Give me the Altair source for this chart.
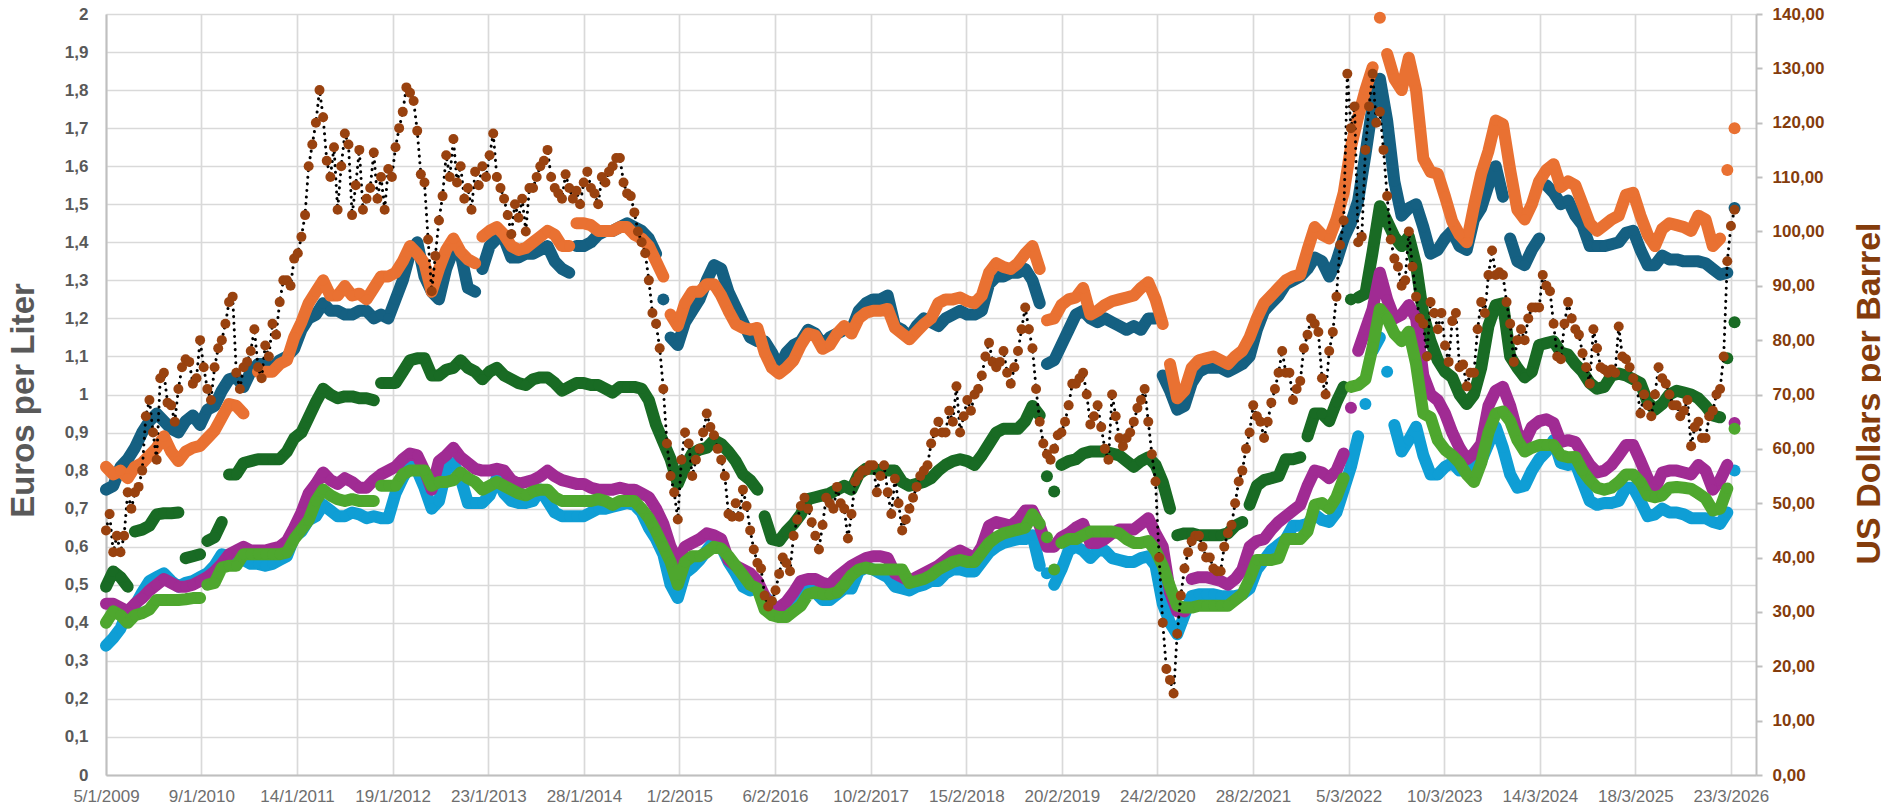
import datetime as dt
import altair as alt
import pandas as pd

N = None
DARK_BLUE = [
.75,.76,.81,.83,.86,.90,.93,.95,.93,.91,
.90,.93,.945,.92,.96,.97,1.01,1.04,1.045,1.02,
1.06,1.08,1.08,1.07,1.09,1.1,1.12,1.17,1.2,1.21,
1.24,1.22,1.22,1.21,1.21,1.22,1.22,1.2,1.21,1.2,
1.25,1.3,1.37,1.40,1.31,1.27,1.25,1.33,1.38,1.37,
1.28,1.27,1.33,1.39,1.41,1.41,1.36,1.36,1.37,1.37,
1.38,1.39,1.35,1.33,1.32,1.39,1.39,1.40,1.42,1.43,
1.43,1.44,1.45,1.44,1.43,1.41,1.37,1.25,1.15,1.13,
1.19,1.22,1.25,1.3,1.34,1.33,1.27,1.23,1.19,1.15,
1.14,1.14,1.11,1.07,1.11,1.13,1.14,1.17,1.16,1.13,
1.15,1.16,1.17,1.17,1.22,1.24,1.25,1.25,1.26,1.18,
1.17,1.15,1.18,1.2,1.19,1.18,1.2,1.21,1.22,1.21,
1.21,1.22,1.29,1.31,1.31,1.32,1.32,1.33,1.30,1.24,
1.08,1.09,1.13,1.17,1.21,1.22,1.2,1.19,1.2,1.19,
1.18,1.17,1.18,1.17,1.2,1.2,1.05,1.01,.96,.97,
1.03,1.06,1.07,1.07,1.07,1.06,1.07,1.08,1.1,1.17,
1.22,1.24,1.26,1.29,1.3,1.31,1.33,1.36,1.35,1.31,
1.35,1.41,1.45,1.51,1.63,1.76,1.83,1.72,1.56,1.47,
1.49,1.5,1.44,1.37,1.38,1.41,1.43,1.39,1.38,1.46,
1.49,1.55,1.6,1.52,1.41,1.35,1.34,1.38,1.41,1.55,
1.53,1.5,1.51,1.47,1.445,1.39,1.39,1.39,1.395,1.40,
1.425,1.43,1.38,1.34,1.34,1.365,1.355,1.355,1.35,1.35,
1.35,1.345,1.33,1.315,1.32,1.49]
ORANGE = [
.81,.79,.80,.78,.81,.82,.84,.86,.89,.85,
.825,.85,.86,.865,.885,.905,.94,.975,.97,.95,
N,1.06,1.06,1.06,1.08,1.09,1.15,1.19,1.24,1.27,
1.30,1.26,1.26,1.285,1.26,1.265,1.25,1.28,1.31,1.31,
1.32,1.35,1.39,1.37,1.345,1.27,1.33,1.38,1.41,1.375,
1.355,1.345,1.415,1.43,1.44,1.42,1.39,1.38,1.385,1.40,
1.415,1.43,1.42,1.39,1.39,1.45,1.45,1.445,1.43,1.43,
1.43,1.44,1.44,1.42,1.41,1.39,1.35,1.31,1.21,1.18,
1.24,1.27,1.27,1.29,1.29,1.26,1.22,1.185,1.175,1.17,
1.175,1.11,1.07,1.055,1.07,1.09,1.13,1.16,1.155,1.12,
1.13,1.16,1.18,1.16,1.20,1.215,1.22,1.22,1.225,1.175,
1.16,1.145,1.165,1.185,1.20,1.24,1.25,1.25,1.255,1.245,
1.24,1.26,1.32,1.345,1.335,1.33,1.345,1.37,1.39,1.33,
1.195,1.2,1.235,1.25,1.255,1.28,1.21,1.22,1.235,1.245,
1.25,1.255,1.26,1.28,1.295,1.25,1.185,1.08,.99,1.01,
1.07,1.09,1.095,1.1,1.09,1.08,1.1,1.115,1.15,1.2,
1.24,1.26,1.28,1.30,1.31,1.315,1.38,1.44,1.42,1.41,
1.46,1.53,1.65,1.73,1.80,1.86,1.99,1.895,1.83,1.80,
1.885,1.8,1.62,1.585,1.58,1.52,1.455,1.42,1.40,1.495,
1.58,1.64,1.72,1.71,1.59,1.485,1.46,1.50,1.56,1.59,
1.605,1.545,1.56,1.55,1.50,1.45,1.43,1.445,1.46,1.47,
1.525,1.53,1.47,1.42,1.39,1.435,1.45,1.445,1.44,1.43,
1.47,1.46,1.39,1.41,1.59,1.70]
DARK_GREEN = [
.495,.535,.52,.495,.64,.645,.655,.685,.688,.688,
.69,.57,.575,.58,.615,.625,.665,.79,.79,.82,
.825,.83,.83,.83,.83,.85,.885,.90,.94,.98,
1.015,1.0,.99,.995,.995,.99,.99,.985,1.03,1.03,
1.03,1.06,1.09,1.095,1.095,1.05,1.05,1.065,1.07,1.09,
1.07,1.06,1.04,1.06,1.07,1.05,1.04,1.03,1.025,1.04,
1.045,1.045,1.03,1.01,1.02,1.03,1.03,1.025,1.025,1.015,
1.005,1.02,1.02,1.02,1.015,.985,.92,.875,.83,.765,
.81,.845,.855,.86,.88,.87,.85,.825,.79,.775,
.75,.68,.62,.615,.64,.66,.685,.725,.73,.735,
.74,.75,.76,.75,.79,.805,.805,.80,.80,.80,
.77,.76,.765,.77,.78,.80,.815,.825,.83,.825,
.815,.84,.87,.90,.91,.91,.91,.93,.97,.945,
.785,.745,.815,.825,.83,.845,.85,.85,.85,.845,
.84,.825,.81,.825,.835,.815,.77,.70,.63,.635,
.635,.63,.63,.63,.63,.635,.655,.665,.71,.76,
.775,.78,.785,.83,.83,.835,.89,.95,.95,.93,
.98,1.02,1.25,1.255,1.265,1.375,1.495,1.455,1.415,1.39,
1.415,1.34,1.21,1.14,1.09,1.06,1.045,1.0,.975,1.0,
1.07,1.18,1.235,1.24,1.10,1.07,1.045,1.06,1.13,1.135,
1.14,1.11,1.105,1.08,1.06,1.03,1.015,1.02,1.05,1.055,
1.05,1.04,1.03,.98,.96,.975,1.0,1.01,1.005,1.0,
.99,.97,.945,.94,1.095,1.19]
LIGHT_BLUE = [
.34,.36,.385,.43,.445,.48,.51,.52,.53,.51,
.495,.505,.51,.52,.53,.55,.58,.575,.57,.565,
.555,.555,.55,.555,.565,.575,.625,.64,.67,.68,
.71,.695,.68,.68,.69,.685,.675,.68,.675,.675,
.74,.78,.815,.80,.755,.70,.72,.80,.82,.78,
.715,.715,.715,.735,.78,.74,.72,.715,.715,.72,
.75,.72,.69,.68,.68,.68,.68,.69,.70,.70,
.705,.71,.715,.71,.69,.65,.62,.58,.50,.465,
.53,.545,.565,.59,.615,.60,.56,.53,.495,.485,
.49,.47,.45,.42,.42,.44,.47,.495,.48,.46,
.46,.475,.49,.49,.535,.545,.54,.53,.52,.495,
.49,.485,.495,.50,.51,.51,.53,.54,.54,.535,
.535,.56,.585,.60,.61,.615,.62,.62,.63,.55,
.53,.50,.54,.59,.60,.59,.57,.59,.59,.57,
.565,.56,.56,.57,.575,.55,.45,.40,.37,.42,
.47,.475,.475,.475,.47,.47,.47,.475,.49,.54,
.565,.59,.605,.62,.655,.655,.66,.685,.67,.665,
.69,.75,.81,.89,.975,1.115,1.15,1.06,.92,.85,
.88,.915,.84,.79,.79,.81,.82,.80,.80,.81,
.825,.87,.915,.86,.79,.755,.76,.80,.83,.85,
.88,.82,.815,.82,.77,.72,.71,.715,.715,.72,
.755,.755,.72,.68,.685,.70,.69,.69,.685,.675,
.675,.675,.665,.66,.69,.80]
MAGENTA = [
.45,.45,.44,.43,.45,.465,.485,.50,.515,.505,
.495,.495,.50,.51,.52,.535,.555,.58,.59,.60,
.59,.59,.59,.595,.60,.615,.65,.69,.74,.765,
.795,.775,.765,.78,.77,.755,.755,.775,.79,.80,
.81,.83,.845,.84,.80,.75,.825,.84,.86,.835,
.82,.805,.80,.80,.805,.80,.775,.765,.77,.775,
.785,.80,.785,.775,.77,.765,.765,.755,.75,.75,
.75,.755,.75,.75,.74,.73,.70,.66,.60,.56,
.60,.61,.62,.635,.63,.62,.565,.55,.54,.53,
.51,.47,.44,.44,.455,.48,.51,.515,.515,.505,
.50,.52,.535,.55,.56,.57,.575,.575,.57,.53,
.52,.51,.52,.53,.54,.55,.565,.58,.59,.58,
.57,.60,.655,.665,.66,.655,.67,.695,.695,.655,
.60,.60,.625,.635,.65,.66,.61,.61,.62,.635,
.645,.645,.645,.66,.675,.635,.60,.48,.43,.43,
.515,.52,.52,.515,.51,.50,.515,.54,.60,.615,
.62,.645,.665,.68,.695,.71,.76,.80,.795,.78,
.80,.845,.965,1.115,1.17,1.225,1.32,1.25,1.20,1.21,
1.235,1.20,1.05,1.0,.985,.95,.90,.86,.83,.845,
.87,.97,1.01,1.02,.97,.90,.875,.915,.93,.935,
.925,.875,.88,.875,.845,.815,.795,.80,.815,.84,
.867,.867,.825,.78,.75,.795,.80,.80,.795,.79,
.815,.80,.75,.775,.815,.925]
LIGHT_GREEN = [
.40,.43,.42,.40,.42,.425,.435,.46,.46,.46,
.46,.462,.465,.465,.50,.505,.545,.55,.55,.58,
.58,.58,.58,.58,.58,.585,.62,.645,.67,.72,
.75,.735,.725,.72,.725,.72,.72,.72,.76,.76,
.76,.79,.80,.80,.80,.76,.77,.77,.775,.795,
.78,.77,.75,.76,.77,.76,.75,.74,.735,.745,
.75,.75,.73,.72,.72,.72,.72,.72,.725,.72,
.71,.72,.72,.72,.70,.675,.64,.60,.56,.50,
.56,.575,.575,.585,.60,.595,.575,.55,.525,.50,
.49,.435,.42,.415,.415,.43,.445,.475,.48,.475,
.475,.48,.50,.525,.54,.545,.54,.54,.54,.54,
.54,.505,.51,.515,.525,.54,.55,.56,.565,.56,
.56,.585,.61,.625,.635,.64,.645,.65,.685,.66,
.625,.54,.61,.62,.62,.63,.64,.64,.64,.64,
.635,.62,.61,.61,.615,.59,.55,.495,.445,.44,
.44,.445,.445,.445,.445,.445,.46,.475,.515,.565,
.565,.565,.57,.62,.62,.62,.64,.71,.715,.70,
.73,.78,1.02,1.025,1.04,1.125,1.225,1.20,1.16,1.14,
1.165,1.08,.95,.94,.88,.855,.84,.82,.79,.77,
.82,.90,.95,.955,.93,.88,.85,.86,.867,.867,
.867,.84,.835,.836,.80,.775,.755,.75,.755,.77,
.79,.79,.77,.735,.73,.735,.755,.757,.755,.752,
.74,.727,.695,.70,.753,.91]
BRENT_USD = [
45,48,41,44,41,44,52,49,52,53,
56,66,69,63,58,73,74,68.5,68,65,
71,75,76.5,76,72,73,80,75,71,69,
75,78.5,80,83,87,88,74,71,75,76,
78,82,75,73,79,77,83,81,87,91,
91,90,95,96,99,103,112,116,120,126,
121,113,110,115.5,104,112,118,116,103,108.5,
115,104,106,108,114.5,106,110,104,111.5,110,
115.5,119,122,126.5,125.5,124,118.5,110.5,109,98.5,
89,95.5,102,106.5,114,110,117,109,112,106,
108,104,111,108.5,112,110,114,118,110,108,
106,103,99.5,105,102.5,106,100,108,108,110,
112,113,115,110,108,107,106,110.5,108,106,
107.5,105,109,111,108,107,105,110,109,111,
112,113.5,113.5,109,107,106.5,103.5,100,98,96,
91,85,83,78.5,71,61,55,52,47,58,
63,61,55,58,60,63,66.5,64,62.5,60,
58,55,48,47.5,50,47.5,52.5,49.5,45,41.5,
39,38,33,31,32,34,37,40,39,37.5,
44,47,49.5,51,49,46.5,44,41.5,46,51,
50,49,53,50,49,43.5,48,54,55,56,
56,57,57,52,55,57,52,48,54.5,50,
45,47,49,51,53,55,56,57,61,63,
65,63,63,67,65,71.5,63,66,69,67,
70,71,73.5,77,79.5,76,75,76,78,74,
72,75,78,82,86,82,78.5,71,65,61,
59,58,60,62.5,63,65,68,72,72,73,
74,70,64.5,66,68,64,60,58,70,66,
62,60.5,62,63,65,67.5,69,71,65,59,
54,40,28,19.5,17.5,15,26,33,38,41,
43,44,44,42,40,40,38,37.5,37.5,42,
44.5,46,50,54,56,60,63,68,66,65,
62,65,68.5,71,74,78,74,74,69,71,
72.5,78.5,81,84,83,81.5,73,70,78,81.5,
88,97.5,102,129,119,123,98,99,115,123,
129,120,122,115,106.5,98.5,95,93.5,90,91,
100,93.5,88,84,83,77,87,85,82,85,
79,76,83.5,85,75,75.5,71.5,74,74,82,
87,85,92,96.5,92,92.5,92,87,83,76,
80,82,80,84,86,86,86,92,90,89,
83,77,76.5,83,87,84,82,81,77.6,75,
72,82,78.5,75,74.6,74,74.6,74,82.5,77,
76.5,75,73,71.5,66.5,70,68,66,70,75,
73,72,70,68,68,66,67,69,60.5,64,
65,62,62,66,67,70,71,77,94.5,101,104]

TICK_DATES = ["2009-01-05","2010-01-09","2011-01-14","2012-01-19","2013-01-23","2014-01-28",
              "2015-02-01","2016-02-06","2017-02-10","2018-02-15","2019-02-20","2020-02-24",
              "2021-02-28","2022-03-05","2023-03-10","2024-03-14","2025-03-18","2026-03-23"]
START = dt.date(2009, 1, 5)
DOMAIN_END = "2026-06-28"

# where a curve has a visible gap between two neighbouring readings
GAPS = {
    "blue": [51, 64, 76, 77, 129, 145, 193, 198, 224],
    "orange": [51, 64, 77, 129, 146, 175, 176, 223, 224],
    "dgreen": [3, 10, 13, 16, 37, 90, 129, 130, 131, 147, 157, 165, 171, 172, 223, 224],
    "lblue": [129, 130, 173, 174, 176, 177, 224],
    "magenta": [148, 149, 171, 172, 224],
    "lgreen": [13, 37, 129, 130, 131, 171, 224],
}


def frame(values, step, gaps=()):
    rows, seg = [], 0
    for k, v in enumerate(values):
        if v is None:
            seg += 1
            continue
        d = START + dt.timedelta(days=step * k)
        rows.append({"d": d.isoformat(), "v": v, "seg": seg})
        if k in gaps:
            seg += 1
    return pd.DataFrame(rows)


X = alt.X("d:T", scale=alt.Scale(domain=[TICK_DATES[0], DOMAIN_END]),
          axis=alt.Axis(values=TICK_DATES, format="%-d/%-m/%Y", title=None, grid=True,
                        gridColor="#D9D9D9", gridWidth=1.7, domainColor="#BFBFBF", domainWidth=2,
                        ticks=False, labelColor="#6E6E6E", labelFont="Liberation Sans",
                        labelFontSize=17, labelPadding=13, labelOverlap=False, labelFlush=False))

Y_LEFT = alt.Y("v:Q", scale=alt.Scale(domain=[0, 2]),
               axis=alt.Axis(values=[round(k * 0.1, 1) for k in range(21)],
                             labelExpr="replace(format(datum.value,'.1~f'),'.',',')",
                             title="Euros per Liter", titleFont="Liberation Sans", titleFontSize=33,
                             titleFontWeight="bold", titleColor="#595959", titleX=-66, titleY=386,
                             titleAngle=-90, grid=True, gridColor="#D9D9D9", gridWidth=1.7,
                             domainColor="#BFBFBF", domainWidth=2, ticks=False,
                             labelColor="#595959", labelFont="Liberation Sans", labelFontWeight="bold",
                             labelFontSize=17, labelPadding=18))

Y_RIGHT = alt.Y("v:Q", scale=alt.Scale(domain=[0, 140]),
                axis=alt.Axis(orient="right", values=list(range(0, 141, 10)),
                              labelExpr="replace(format(datum.value,'.2f'),'.',',')",
                              title="US Dollars per Barrel", titleFont="Liberation Sans", titleFontSize=34,
                              titleFontWeight="bold", titleColor="#843C0C", titleX=130, titleY=379,
                              titleAngle=-90, grid=False, domainColor="#BFBFBF", domainWidth=2,
                              tickColor="#BFBFBF", tickWidth=2, tickSize=6,
                              labelColor="#843C0C", labelFont="Liberation Sans", labelFontWeight="bold",
                              labelFontSize=17, labelPadding=10))


def curve(values, gaps, color):
    df = frame(values, 28, gaps)
    base = alt.Chart(df)
    line = base.mark_line(color=color, strokeWidth=12, strokeCap="round", strokeJoin="round").encode(
        x=X, y=Y_LEFT, detail="seg:N")
    pts = base.mark_circle(color=color, size=110, opacity=1).encode(x=X, y=Y_LEFT)
    return [line, pts]


left = []
left += curve(DARK_BLUE, GAPS["blue"], "#156082")
left += curve(ORANGE, GAPS["orange"], "#E97132")
left += curve(LIGHT_BLUE, GAPS["lblue"], "#0F9ED5")
left += curve(DARK_GREEN, GAPS["dgreen"], "#196B24")
left += curve(MAGENTA, GAPS["magenta"], "#A02B93")
left += curve(LIGHT_GREEN, GAPS["lgreen"], "#4EA72E")

brent = frame(BRENT_USD, 14)
dotted = alt.Chart(brent).mark_line(color="black", strokeWidth=3, strokeDash=[0.1, 6.5], strokeCap="round").encode(
    x=X, y=Y_RIGHT)
brown = alt.Chart(brent).mark_circle(color="#99420F", size=100, opacity=1).encode(x=X, y=Y_RIGHT)

chart = (
    alt.layer(alt.layer(*left), alt.layer(dotted, brown))
    .resolve_scale(y="independent")
    .properties(width=1650, height=761,
                autosize=alt.AutoSizeParams(type="none"),
                padding={"left": 98, "top": 6, "right": 125, "bottom": 30})
    .configure_view(stroke=None)
)
chart.save("out.html", embed_options={"renderer": "svg", "actions": False})
